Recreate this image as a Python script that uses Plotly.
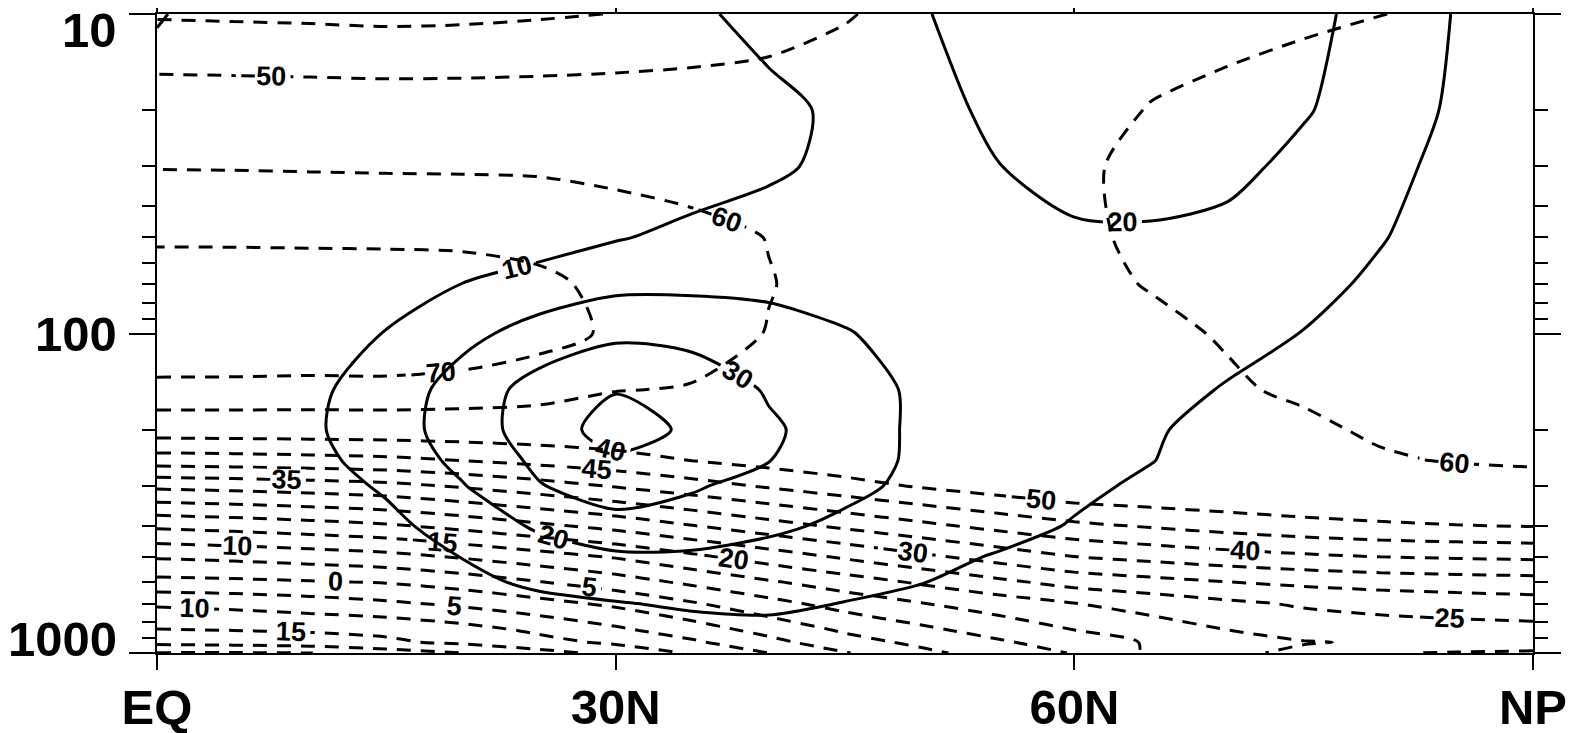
import plotly.graph_objects as go

# Latitudes (deg N) and pressure levels (hPa)
lats = [0, 5, 10, 15, 20, 25, 30, 35, 40, 45, 50, 55, 60, 65, 70, 75, 80, 85, 90]
levels = [1000, 925, 850, 700, 600, 500, 400, 300, 250, 200, 150, 100, 70, 50, 30, 20, 10]

# Temperature (deg C) at each level, EQ -> NP
t_1000 = [25.2, 25.3, 25.1, 22.5, 20.0, 16.8, 13.5, 9.5, 5.0, 0.3, -3.8, -7.2, -10.3, -15.8, -19.0, -21.0, -24.7, -25.3, -25.5]
t_925 = [18.5, 18.0, 17.0, 15.8, 14.0, 11.5, 9.1, 5.8, 1.5, -3.0, -6.2, -9.3, -12.4, -15.5, -18.0, -19.7, -20.5, -21.8, -23.0]
t_850 = [15.3, 15.0, 14.6, 14.0, 12.0, 9.2, 6.1, 2.5, -1.5, -5.6, -8.8, -11.9, -14.9, -17.5, -19.9, -22.0, -22.8, -23.2, -23.5]
t_700 = [9.2, 8.5, 7.3, 5.8, 4.0, 1.6, -1.0, -4.5, -8.4, -12.0, -14.8, -17.4, -19.9, -22.0, -24.0, -25.6, -26.6, -27.3, -27.9]
t_600 = [1.4, 1.0, 0.4, -0.3, -2.2, -4.8, -7.6, -11.0, -14.4, -17.5, -20.7, -23.8, -26.8, -28.4, -29.9, -31.1, -32.0, -32.6, -33.0]
t_500 = [-5.5, -6.2, -7.2, -8.4, -10.5, -12.9, -15.4, -18.9, -22.3, -25.7, -28.9, -32.0, -34.9, -36.5, -37.9, -39.1, -40.0, -40.5, -40.9]
t_400 = [-16.0, -16.9, -18.0, -19.3, -21.5, -24.0, -26.6, -29.8, -33.0, -36.0, -38.8, -41.5, -43.9, -45.5, -47.0, -48.3, -49.2, -49.8, -50.2]
t_300 = [-31.2, -31.8, -32.6, -33.6, -35.6, -37.9, -40.4, -43.0, -45.6, -48.1, -50.5, -52.6, -54.5, -55.2, -55.7, -56.0, -56.3, -56.6, -56.8]
t_250 = [-42.4, -42.7, -43.2, -43.8, -45.0, -46.5, -48.1, -50.0, -51.8, -53.5, -54.2, -54.6, -55.0, -55.8, -56.6, -57.5, -59.2, -60.4, -61.1]
t_200 = [-52.8, -52.9, -53.0, -53.1, -53.3, -53.5, -53.8, -54.5, -55.3, -56.0, -56.0, -56.0, -56.0, -56.6, -57.5, -58.7, -61.0, -62.3, -63.0]
t_150 = [-67.4, -67.3, -67.0, -67.1, -66.0, -64.0, -60.3, -59.5, -58.3, -57.5, -57.2, -57.0, -57.0, -58.0, -59.2, -61.0, -62.5, -63.5, -64.0]
t_100 = [-79.0, -79.0, -78.8, -79.0, -77.5, -73.5, -68.5, -63.5, -59.7, -58.0, -57.5, -57.5, -58.0, -58.7, -60.5, -63.0, -64.2, -64.8, -65.0]
t_70 = [-75.0, -75.2, -75.3, -75.0, -74.5, -72.0, -67.5, -63.5, -60.3, -57.5, -57.0, -57.5, -58.5, -60.3, -62.0, -63.5, -64.8, -65.5, -66.0]
t_50 = [-68.7, -68.6, -68.4, -68.3, -68.0, -67.0, -64.5, -62.5, -59.8, -56.5, -56.0, -57.0, -59.0, -61.0, -62.5, -63.5, -65.0, -66.0, -66.5]
t_30 = [-59.6, -59.5, -59.3, -59.1, -59.0, -58.8, -57.8, -56.5, -55.5, -54.5, -55.0, -56.5, -59.0, -61.5, -62.5, -63.0, -64.5, -65.5, -66.0]
t_20 = [-53.3, -53.2, -53.1, -53.0, -53.0, -53.0, -53.1, -52.8, -52.5, -52.5, -53.5, -55.5, -57.5, -60.3, -61.5, -62.0, -63.5, -64.5, -65.0]
t_10 = [-44.5, -44.3, -44.1, -43.8, -44.0, -44.5, -45.1, -46.5, -48.0, -49.7, -51.5, -53.5, -55.5, -57.0, -58.2, -59.3, -59.9, -61.0, -62.0]

# Zonal wind (m/s) at each level, EQ -> NP
u_1000 = [-3, -4, -4, -3, -1, 0, 1, 1.5, 2, 2, 1.5, 1, 0.5, 0.5, 0, 0, 0, 0, 0]
u_925 = [-5, -6, -5, -3, 0, 2.5, 4, 5, 5.5, 5, 4, 2.5, 1.5, 1, 0.5, 0.3, 0, 0, 0]
u_850 = [-6, -6.5, -5, -2, 1.5, 4.5, 6.5, 7.5, 8, 7, 5.5, 3.5, 2.5, 1.5, 1, 0.5, 0.2, 0, 0]
u_700 = [-5, -4.5, -2, 1.5, 5, 8, 9.6, 11, 11.5, 9.8, 8, 5.5, 3.5, 2.5, 1.5, 1, 0.5, 0.3, 0]
u_600 = [-3, -2, 0.5, 4, 8, 11.5, 13.5, 14, 13.5, 12, 10.2, 7.5, 5, 3.5, 2.5, 1.5, 1, 0.5, 0]
u_500 = [-1, 0.5, 3, 6, 10.2, 15, 18.5, 18.5, 16.5, 14, 12, 9.5, 7, 5, 3.5, 2, 1, 0.5, 0]
u_400 = [0.5, 2.5, 5, 8, 13.5, 21.5, 26.5, 25.5, 22, 18, 15, 12.5, 9.5, 7, 5, 3, 2, 1, 0]
u_300 = [1.5, 4, 6.5, 11, 19.5, 29.5, 35, 31, 26.5, 22.5, 17.5, 14, 11.5, 8.8, 6.2, 4, 2.5, 1, 0]
u_250 = [1.5, 4.5, 7.5, 13.5, 22.5, 32, 38.5, 36, 30.2, 24.5, 18, 14, 12, 10.2, 7, 4.5, 2.5, 1, 0]
u_200 = [1, 4.5, 8.5, 15.5, 24.5, 35, 44, 38.5, 31.5, 25, 18, 14, 12.5, 10.8, 7.5, 5, 3, 1.5, 0]
u_150 = [0, 4, 8, 14.5, 24, 34, 39.5, 37, 29, 23.5, 18.5, 15.5, 14, 12.5, 9.5, 6.5, 4, 2, 0]
u_100 = [-2, 0, 5, 10.5, 17.5, 23.5, 28, 26.5, 25, 20.5, 17, 15, 14.5, 14, 12.5, 9.8, 6.5, 3.5, 0]
u_70 = [-1, -2, -2, 2, 10.2, 14.5, 17.5, 18, 17, 16.5, 15.5, 15.5, 16, 16, 15, 12.5, 8.5, 4.5, 0]
u_50 = [0, -1, -2, -1.5, 1, 5, 9.3, 12.5, 14.5, 15.5, 16.5, 17.5, 18.8, 18.8, 17.5, 14.5, 10.5, 6, 0]
u_30 = [2, 0, -2, -3, -2, 0, 2.5, 5, 8.3, 12.5, 16.5, 19.8, 23, 24, 22.5, 17.5, 13, 7, 0]
u_20 = [4, 1, -2, -3, -2, 0, 2.5, 5, 8, 11.5, 16.5, 22, 26, 27, 26, 20.8, 15, 8.5, 0]
u_10 = [11, 4, 0, -1, 0, 2, 5, 8.6, 12.5, 16, 19.6, 22.5, 25, 26, 25.5, 23, 16, 9.5, 0]

temp = [t_1000, t_925, t_850, t_700, t_600, t_500, t_400, t_300, t_250,
        t_200, t_150, t_100, t_70, t_50, t_30, t_20, t_10]
wind = [u_1000, u_925, u_850, u_700, u_600, u_500, u_400, u_300, u_250,
        u_200, u_150, u_100, u_70, u_50, u_30, u_20, u_10]

# Axis labels
x_tickvals = [0, 30, 60, 90]
x_ticktext = ["EQ", "30N", "60N", "NP"]
y_tickvals = [10, 100, 1000]
y_ticktext = ["10", "100", "1000"]
y_minor = [20, 30, 40, 50, 60, 70, 80, 90, 200, 300, 400, 500, 600, 700, 800, 900]
# vertical nudge (px, up = positive) of each pressure label, kept inside the frame
y_label_shift = [-16, 0, 14]

FONT = "Liberation Sans"
label_font = dict(family=FONT, size=27, color="black", weight=700)
DASH = "14px,10px"

fig = go.Figure()

# Temperature: -45 .. 25 every 5
fig.add_trace(go.Contour(
    x=lats, y=levels, z=temp,
    contours=dict(coloring="none", start=-45, end=25, size=5,
                  showlabels=True, labelfont=label_font),
    line=dict(color="black", width=3, dash=DASH, smoothing=0.8),
    showscale=False, hoverinfo="skip",
))
# Temperature: -70, -60, -50
fig.add_trace(go.Contour(
    x=lats, y=levels, z=temp,
    contours=dict(coloring="none", start=-70, end=-50, size=10,
                  showlabels=True, labelfont=label_font),
    line=dict(color="black", width=3, dash=DASH, smoothing=0.8),
    showscale=False, hoverinfo="skip",
))
# Zonal wind: 10 .. 40 every 10
fig.add_trace(go.Contour(
    x=lats, y=levels, z=wind,
    contours=dict(coloring="none", start=10, end=40, size=10,
                  showlabels=True, labelfont=label_font),
    line=dict(color="black", width=3, smoothing=0.8),
    showscale=False, hoverinfo="skip",
))

axis_font = dict(family=FONT, size=49, color="black", weight=700)

fig.update_xaxes(
    range=[0, 90], tickmode="array", tickvals=x_tickvals, ticktext=x_ticktext,
    ticks="outside", ticklen=15, tickwidth=1.8, tickcolor="black",
    showline=True, linecolor="black", linewidth=1.8, mirror="ticks",
    showgrid=False, zeroline=False, tickfont=axis_font, ticklabelstandoff=-5,
    automargin=False, ticklabeloverflow="allow",
)
fig.update_yaxes(
    type="log", range=[3, 1], tickmode="array", tickvals=y_tickvals,
    showticklabels=False,
    ticks="outside", ticklen=26, tickwidth=1.8, tickcolor="black",
    showline=True, linecolor="black", linewidth=1.8, mirror="ticks",
    showgrid=False, zeroline=False,
    automargin=False,
    minor=dict(tickmode="array", tickvals=y_minor, ticks="outside", ticklen=13,
               tickwidth=1.8, tickcolor="black", showgrid=False),
)

# pressure labels placed at their levels on the log axis (log10 position)
for val, txt, dy in zip(y_tickvals, y_ticktext, y_label_shift):
    fig.add_annotation(
        text=txt, xref="paper", x=0, yref="y", y=len(str(val)) - 1,
        xanchor="right", yanchor="middle", xshift=-38, yshift=dy,
        showarrow=False, font=axis_font,
    )

# The page places the figure 8 px in from the top-left corner
fig.update_layout(
    width=1566, height=725,
    margin=dict(l=149, r=41, t=6, b=80, autoexpand=False),
    plot_bgcolor="white", paper_bgcolor="white",
    showlegend=False,
)

fig.write_html("out.html")
